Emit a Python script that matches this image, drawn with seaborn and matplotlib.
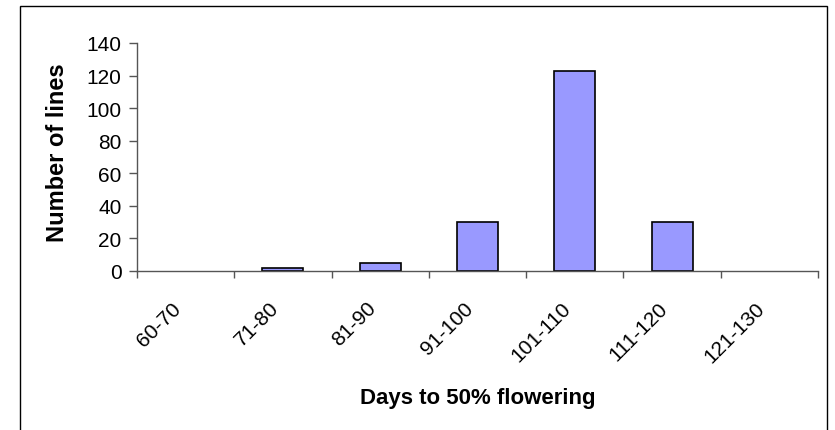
import matplotlib
matplotlib.use("Agg")
import matplotlib.pyplot as plt
import matplotlib.transforms as mtransforms
import seaborn as sns
import pandas as pd
from matplotlib.patches import Rectangle

categories = ["60-70", "71-80", "81-90", "91-100", "101-110", "111-120", "121-130"]
counts = [0, 2, 5, 30, 123, 30, 0]
yticks = [0, 20, 40, 60, 80, 100, 120, 140]

sns.set_theme(style="white")
plt.rcParams['font.family'] = ['Liberation Sans', 'DejaVu Sans']
plt.rcParams['text.color'] = 'black'
plt.rcParams['axes.labelcolor'] = 'black'
plt.rcParams['ytick.labelcolor'] = 'black'
plt.rcParams['xtick.labelcolor'] = 'black'

df = pd.DataFrame({"range": categories, "count": counts})

fig = plt.figure(figsize=(8.35, 4.31), dpi=100)
ax = fig.add_axes([137/835, 1-272/431, (818-137)/835, (272-44)/431])

sns.barplot(data=df, x="range", y="count", ax=ax, color="#9999FF",
            edgecolor="black", linewidth=1.2, width=0.42, saturation=1)
for p in ax.patches:
    if p.get_height() == 0:
        p.set_visible(False)

ax.set_ylim(0, 140)
ax.set_xlim(-0.5, len(categories) - 0.5)
ax.set_yticks(yticks)
ax.set_yticklabels([str(v) for v in yticks], fontsize=15)

# category labels, rotated, placed under each category
ax.set_xticks(range(len(categories)))
ax.set_xticklabels([])
trans = mtransforms.blended_transform_factory(ax.transData, ax.transAxes)
offset = mtransforms.ScaledTranslation(-14/100, -27/100, fig.dpi_scale_trans)
for i, c in enumerate(categories):
    ax.text(i, 0, c, transform=trans + offset, rotation=45, ha="right", va="top",
            rotation_mode="anchor", fontsize=15, color="black", clip_on=False)

ax.set_xticks([i - 0.5 for i in range(len(categories) + 1)], minor=True)
ax.tick_params(axis="x", which="major", length=0)
ax.tick_params(axis="x", which="minor", length=5, width=1, color="#555555", bottom=True)
ax.tick_params(axis="y", which="major", length=6, width=1, color="#555555", left=True, pad=5)

for s in ["top", "right"]:
    ax.spines[s].set_visible(False)
for s in ["left", "bottom"]:
    ax.spines[s].set_color("#555555")
    ax.spines[s].set_linewidth(1)

ax.set_xlabel("Days to 50% flowering", fontsize=16, fontweight="bold")
ax.set_ylabel("Number of lines", fontsize=17, fontweight="bold")
ax.xaxis.set_label_coords(0.5, (272-388)/228)
ax.yaxis.set_label_coords((69-137)/681, (272-153)/228)

fig.patches.append(Rectangle((20/835, -0.05), (827-20)/835, 1.05 - 7/431,
                             transform=fig.transFigure, fill=False,
                             edgecolor="black", linewidth=1))

fig.savefig("out.png", dpi=100)
